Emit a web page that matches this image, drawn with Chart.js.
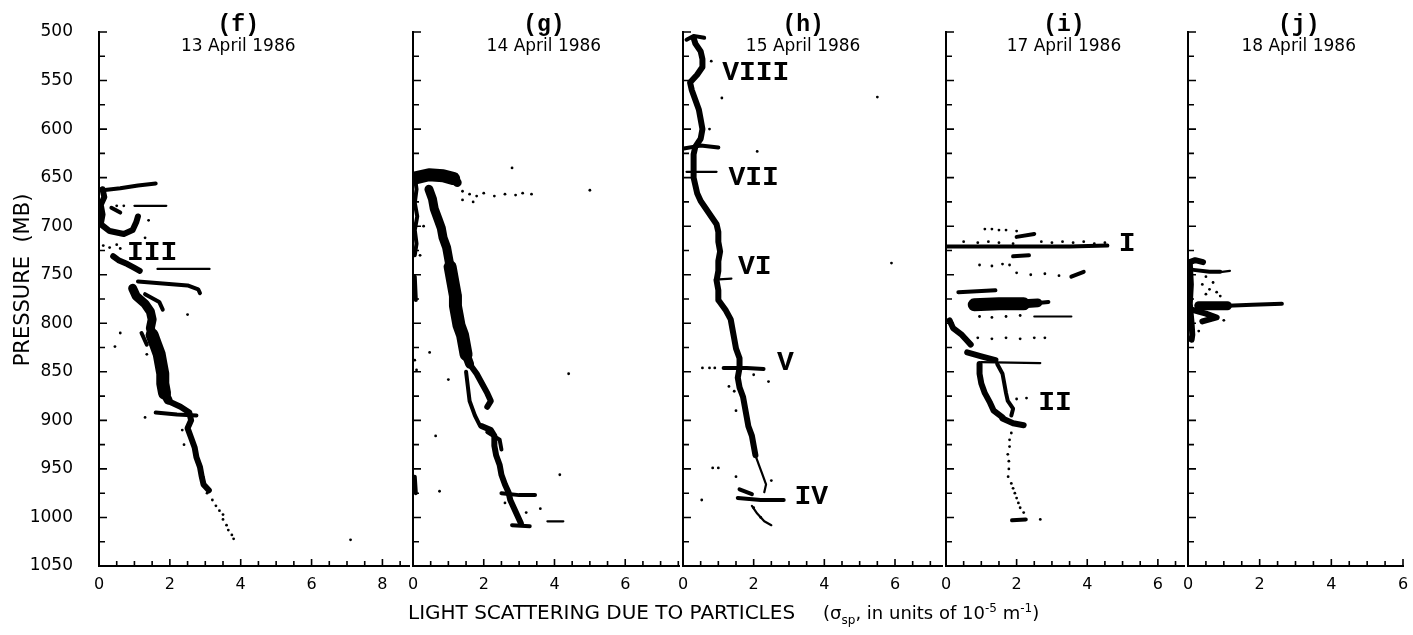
<!DOCTYPE html>
<html>
<head>
<meta charset="utf-8">
<title>Light scattering profiles, April 1986</title>
<script src="https://cdn.jsdelivr.net/npm/chart.js@4.4.1/dist/chart.umd.min.js"></script>
<style>
  body { margin: 0; background: #fff; }
  #wrap { position: relative; width: 1413px; height: 635px; overflow: hidden; background: #fff; }
  #wrap canvas { position: absolute; top: 0; }
  #xtitle { position: absolute; left: 408px; top: 597px; font: 20px "DejaVu Sans", sans-serif; color: #000; white-space: nowrap; line-height: 22px; }
  #xtitle .units { font-size: 18px; }
  #xtitle .gap { display: inline-block; width: 28px; }
  #xtitle sub, #xtitle sup { font-size: 12px; }
</style>
</head>
<body>
<div id="wrap">
  <canvas id="pf"></canvas>
  <canvas id="pg"></canvas>
  <canvas id="ph"></canvas>
  <canvas id="pi"></canvas>
  <canvas id="pj"></canvas>
  <div id="xtitle">LIGHT SCATTERING DUE TO PARTICLES<span class="gap"></span><span class="units">(σ<sub>sp</sub>, in units of 10<sup>-5</sup> m<sup>-1</sup>)</span></div>
</div>
<script>
// axis ranges and labels
var pressureMin = 500, pressureMax = 1050;
var pressureLabels = [500, 550, 600, 650, 700, 750, 800, 850, 900, 950, 1000, 1050];
var sigmaLabels = [0, 2, 4, 6, 8];
var panelLetters = ['(f)', '(g)', '(h)', '(i)', '(j)'];
var panelDates = ['13 April 1986', '14 April 1986', '15 April 1986', '17 April 1986', '18 April 1986'];
var sigmaMax = [8.75, 7.52, 7.33, 6.74, 6.0];
var headerAt = [3.93, 3.7, 3.4, 3.34, 3.09];   // sigma value under the panel heading

// every point is [pressure mb, sigma_sp]
// (f) 13 April 1986
var fBand = [
  [[812,1.5],[822,1.6],[832,1.7],[842,1.75],[852,1.8],[862,1.8],[872,1.85]]
];
var fHeavy = [
  [[764,0.95],[772,1.05],[780,1.3],[788,1.45],[796,1.5],[805,1.45],[812,1.5]],
  [[872,1.85],[879,1.95]]
];
var fProfile = [
  [[880,1.95],[886,2.3],[892,2.55],[900,2.6],[908,2.5],[918,2.6],[928,2.7],[938,2.75],[948,2.85],[958,2.9],[966,2.95],[972,3.1]],
  [[662,0.1],[670,0.15],[678,0.05],[688,0.1],[698,0.05],[705,0.3],[708,0.7],[704,0.95],[696,1.05],[690,1.1]],
  [[731,0.4],[735,0.55],[739,0.8],[743,1.0],[746,1.15]]
];
var fLayers = [
  [[663,0.1],[661,0.6],[658,1.1],[656,1.6]],
  [[757,1.1],[759,1.8],[761,2.5],[765,2.8],[769,2.85]],
  [[892,1.6],[894,2.2],[895,2.75]],
  [[681,0.35],[686,0.6]],
  [[770,1.3],[778,1.7],[786,1.8]],
  [[810,1.2],[822,1.35]]
];
var fFine = [
  [[679,1.0],[679,1.9]],
  [[744,1.65],[744,3.12]]
];
var fDots = [[679,0.5],[679,0.7],[720,0.12],[722,0.3],[719,0.5],[723,0.6],[975,3.05],[982,3.2],[988,3.3],[993,3.4],
  [997,3.5],[1002,3.5],[1008,3.6],[1013,3.65],[1018,3.75],[1022,3.8],[791,2.5],[897,1.3],[824,0.45],[810,0.6],
  [832,1.35],[910,2.35],[925,2.4],[1023,7.1],[712,1.3],[694,1.4]];
var fMarks = [['III', 1.5, 728]];

// (g) 14 April 1986
var gBand = [
  [[650,0.1],[647,0.45],[648,0.85],[651,1.15]],
  [[742,1.05],[752,1.1],[762,1.15],[772,1.2],[782,1.2],[792,1.25],[802,1.3],[812,1.4],[822,1.45],[832,1.5]]
];
var gHeavy = [
  [[655,1.25],[651,1.15]],
  [[662,0.45],[672,0.55],[682,0.6],[692,0.7],[702,0.8],[712,0.85],[722,0.95],[732,1.0],[742,1.05]],
  [[832,1.5],[842,1.6]]
];
var gProfile = [
  [[842,1.6],[852,1.8],[862,1.95],[872,2.1],[880,2.2],[886,2.1]],
  [[906,1.95],[910,2.2],[916,2.3],[926,2.3],[936,2.35],[946,2.45],[956,2.5],[966,2.6],[974,2.7],[982,2.75],[990,2.85],[998,2.95],[1006,3.05]]
];
var gLayers = [
  [[648,0.05],[662,0.1],[676,0.05],[690,0.12],[704,0.05],[718,0.1],[730,0.05]],
  [[752,0.05],[776,0.08]],
  [[958,0.05],[975,0.08]],
  [[975,2.5],[977,3.0],[977,3.45]],
  [[1008,2.8],[1009,3.3]],
  [[850,1.5],[865,1.55],[880,1.6],[895,1.75],[906,1.9]],
  [[912,2.1],[920,2.45],[930,2.5]]
];
var gFine = [
  [[1004,3.8],[1004,4.25]]
];
var gDots = [[664,1.4],[667,1.6],[669,1.8],[666,2.0],[669,2.3],[667,2.6],[668,2.9],[666,3.1],[667,3.35],[673,1.4],
  [675,1.7],[640,2.8],[663,5.0],[830,0.47],[858,1.0],[916,0.64],[956,4.15],[852,4.4],[973,0.75],[991,3.6],
  [848,0.1],[838,0.05],[730,0.2],[700,0.3],[985,2.6],[995,3.2]];
var gMarks = [];

// (h) 15 April 1986
var hBand = [];
var hHeavy = [];
var hProfile = [
  [[506,0.3],[512,0.35],[520,0.5],[528,0.55],[536,0.55],[544,0.4],[552,0.2],[560,0.25],[570,0.35],[580,0.45],[590,0.5],
   [600,0.55],[610,0.5],[618,0.35],[626,0.3],[634,0.3],[642,0.3],[650,0.3],[658,0.35],[666,0.4],[674,0.5],[682,0.65],
   [690,0.8],[698,0.95],[706,1.0],[716,1.0],[726,1.05],[736,1.0],[746,1.0],[756,0.95],[766,1.0],[776,1.0],[786,1.2],
   [796,1.35],[806,1.4],[816,1.45],[826,1.5],[836,1.6],[846,1.6],[856,1.55],[866,1.6],[876,1.7],[886,1.75],[896,1.8],
   [906,1.85],[916,1.95],[926,2.0],[936,2.05]]
];
var hLayers = [
  [[508,0.1],[504,0.3],[506,0.6]],
  [[620,0.02],[617,0.5],[619,1.0]],
  [[846,1.15],[846,1.8],[847,2.28]],
  [[980,1.55],[982,2.2],[982,2.85]],
  [[971,1.6],[976,1.95]]
];
var hFine = [
  [[644,0.1],[644,0.95]],
  [[988,1.95],[996,2.1],[1004,2.3],[1008,2.5]],
  [[755,0.9],[754,1.37]],
  [[936,2.05],[946,2.15],[956,2.25],[966,2.35],[974,2.3]]
];
var hDots = [[846,0.55],[846,0.75],[846,0.9],[568,1.1],[567,5.5],[623,2.1],[738,5.9],[860,2.42],[853,2.0],[982,0.53],
  [949,0.84],[949,1.0],[870,1.45],[890,1.5],[962,2.5],[958,1.5],[990,2.0],[1000,2.2],[865,1.3],[530,0.8],[600,0.75]];
var hMarks = [['VIII', 2.06, 542], ['VII', 2.0, 650], ['VI', 2.03, 742], ['V', 2.9, 841], ['IV', 3.63, 979]];

// (i) 17 April 1986
var iBand = [
  [[781,0.8],[780,1.5],[780,2.2]]
];
var iHeavy = [
  [[780,2.2],[779,2.6]]
];
var iProfile = [
  [[797,0.1],[805,0.2],[812,0.45],[818,0.6],[822,0.7]],
  [[830,0.6],[834,1.0],[838,1.4]],
  [[842,0.95],[852,0.95],[862,1.0],[872,1.1],[882,1.25],[890,1.35],[897,1.6]],
  [[898,1.6],[903,1.9],[905,2.2]]
];
var iLayers = [
  [[721,0.0],[721,2.0],[721,3.5],[720,4.57]],
  [[711,2.0],[708,2.5]],
  [[779,2.6],[778,2.9]],
  [[752,3.55],[747,3.9]],
  [[768,0.35],[766,1.4]],
  [[842,1.45],[852,1.6],[862,1.65],[872,1.7],[880,1.75],[888,1.9],[895,1.85]],
  [[1003,1.87],[1002,2.26]],
  [[731,1.9],[730,2.35]]
];
var iFine = [
  [[840,1.0],[841,2.67]],
  [[793,2.5],[793,3.55]]
];
var iDots = [[703,1.1],[703,1.3],[704,1.5],[704,1.7],[705,2.0],[716,0.5],[717,0.9],[716,1.2],[717,1.5],[718,1.9],
  [716,2.7],[717,3.0],[716,3.3],[717,3.6],[716,3.9],[718,4.2],[717,4.5],[740,0.95],[741,1.3],[739,1.6],[740,1.8],
  [748,2.0],[750,2.4],[749,2.8],[751,3.2],[793,0.95],[794,1.3],[793,1.7],[792,2.1],[815,0.9],[816,1.3],[815,1.7],
  [816,2.1],[815,2.5],[815,2.8],[878,2.0],[877,2.28],[913,1.85],[920,1.8],[927,1.8],[935,1.75],[942,1.78],[950,1.78],
  [958,1.76],[965,1.85],[970,1.9],[975,1.95],[980,2.0],[985,2.05],[990,2.1],[995,2.2],[1002,2.67]];
var iMarks = [['I', 5.13, 718], ['II', 3.09, 882]];

// (j) 18 April 1986
var jBand = [];
var jHeavy = [
  [[782,0.3],[782,1.1]]
];
var jProfile = [
  [[737,0.05],[735,0.2],[737,0.42]],
  [[738,0.05],[760,0.08],[780,0.05],[800,0.1],[812,0.12],[817,0.1]],
  [[786,0.1],[790,0.5],[794,0.8],[798,0.4]]
];
var jLayers = [
  [[782,1.1],[781,1.8],[780,2.62]],
  [[745,0.15],[747,0.6],[747,0.9]]
];
var jFine = [
  [[747,0.95],[746,1.17]]
];
var jDots = [[760,0.4],[765,0.6],[768,0.8],[770,0.5],[772,0.9],[758,0.7],[808,0.3],[752,0.5],[797,1.0]];
var jMarks = [];

// page geometry (px)
var axisLeft = [99, 413, 683, 946, 1188];
var areaWidth = [314, 270, 263, 242, 215];
var plotTop = 32, canvasHeight = 600, xAxisHeight = 34;

var INK = '#000';
Chart.defaults.color = INK;
Chart.defaults.font.family = '"DejaVu Sans", sans-serif';

function toXY(arr) {
  return arr.map(function (d) { return {x: d[1], y: d[0]}; });
}

function strokes(list, width) {
  return list.map(function (arr) {
    return {
      data: toXY(arr), showLine: true, borderColor: INK, borderWidth: width,
      borderCapStyle: 'round', borderJoinStyle: 'round', pointRadius: 0, tension: 0
    };
  });
}

function dots(arr) {
  return {data: toXY(arr), showLine: false, pointRadius: 1.4, pointBackgroundColor: INK, pointBorderWidth: 0};
}

// inward tick marks, panel headings, layer numerals
var panelText = {
  id: 'panelText',
  afterDraw: function (chart, args, opts) {
    var ctx = chart.ctx, area = chart.chartArea;
    var xs = chart.scales.x, ys = chart.scales.y;
    ctx.save();
    ctx.strokeStyle = INK;
    ctx.lineWidth = 1.6;
    ctx.beginPath();
    xs.ticks.forEach(function (t) {
      if (t.value === 0) return;
      var px = xs.getPixelForValue(t.value);
      var len = t.value % 2 === 0 ? 7 : 5;
      ctx.moveTo(px, area.bottom);
      ctx.lineTo(px, area.bottom - len);
    });
    ys.ticks.forEach(function (t) {
      if (t.value === pressureMax) return;
      var py = ys.getPixelForValue(t.value);
      var len = t.value % 50 === 0 ? 8 : 6;
      ctx.moveTo(area.left, py);
      ctx.lineTo(area.left + len, py);
    });
    ctx.stroke();

    ctx.fillStyle = INK;
    ctx.textAlign = 'center';
    ctx.textBaseline = 'middle';
    var hx = xs.getPixelForValue(opts.headerAt);
    ctx.font = 'bold 23px "Liberation Mono", monospace';
    ctx.fillText(opts.letter, hx, 25);
    ctx.font = '17px "DejaVu Sans", sans-serif';
    ctx.fillText(opts.date, hx, 47);

    ctx.font = 'bold 28px "Liberation Mono", monospace';
    opts.marks.forEach(function (m) {
      ctx.fillText(m[0], xs.getPixelForValue(m[1]), ys.getPixelForValue(m[2]));
    });

    if (opts.yTitle) {
      ctx.translate(24, 280);
      ctx.rotate(-Math.PI / 2);
      ctx.font = '21px "DejaVu Sans", sans-serif';
      ctx.fillText(opts.yTitle, 0, 0);
    }
    ctx.restore();
  }
};

function makePanel(idx, canvasId, band, heavy, profile, layers, fine, dotList, marks) {
  var first = idx === 0;
  var yw = first ? axisLeft[0] : 12;
  var padRight = idx === 4 ? 10 : 0;
  var el = document.getElementById(canvasId);
  el.width = yw + areaWidth[idx] + padRight;
  el.height = canvasHeight;
  el.style.left = (axisLeft[idx] - yw) + 'px';

  var datasets = [].concat(
    strokes(band, 13), strokes(heavy, 9), strokes(profile, 6), strokes(layers, 4), strokes(fine, 2.2), [dots(dotList)]
  );

  return new Chart(el, {
    type: 'scatter',
    data: {datasets: datasets},
    plugins: [panelText],
    options: {
      responsive: false,
      animation: false,
      devicePixelRatio: 1,
      layout: {padding: {top: plotTop, right: padRight, bottom: 0, left: 0}},
      plugins: {
        legend: {display: false},
        tooltip: {enabled: false},
        panelText: {
          letter: panelLetters[idx], date: panelDates[idx], headerAt: headerAt[idx],
          marks: marks, yTitle: first ? 'PRESSURE  (MB)' : null
        }
      },
      scales: {
        x: {
          type: 'linear', min: 0, max: sigmaMax[idx],
          grid: {display: false},
          border: {display: true, color: INK, width: 2},
          ticks: {
            stepSize: 0.5, includeBounds: false, autoSkip: false, maxRotation: 0, padding: 1,
            font: {size: 16},
            callback: function (v) { return sigmaLabels.indexOf(v) >= 0 ? v : ''; }
          },
          afterFit: function (s) { s.height = xAxisHeight; }
        },
        y: {
          type: 'linear', reverse: true, min: pressureMin, max: pressureMax,
          grid: {display: false},
          border: {display: true, color: INK, width: 2},
          ticks: {
            display: first, stepSize: 25, autoSkip: false, padding: 18,
            font: {size: 17},
            callback: function (v) { return pressureLabels.indexOf(v) >= 0 ? v : ''; }
          },
          afterFit: function (s) { s.width = yw; }
        }
      }
    }
  });
}

makePanel(0, 'pf', fBand, fHeavy, fProfile, fLayers, fFine, fDots, fMarks);
makePanel(1, 'pg', gBand, gHeavy, gProfile, gLayers, gFine, gDots, gMarks);
makePanel(2, 'ph', hBand, hHeavy, hProfile, hLayers, hFine, hDots, hMarks);
makePanel(3, 'pi', iBand, iHeavy, iProfile, iLayers, iFine, iDots, iMarks);
makePanel(4, 'pj', jBand, jHeavy, jProfile, jLayers, jFine, jDots, jMarks);
</script>
</body>
</html>
